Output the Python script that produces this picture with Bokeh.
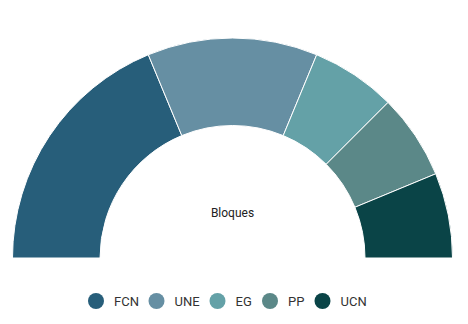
import math
from bokeh.plotting import figure
from bokeh.models import Range1d, ColumnDataSource
from bokeh.core.properties import value
from bokeh.embed import file_html
from bokeh.resources import INLINE

categories = ["FCN", "UNE", "EG", "PP", "UCN"]
seats = [3, 2, 1, 1, 1]
colors = ["#275E7A", "#668FA3", "#64A1A7", "#5B8888", "#0A4447"]
center_label = "Bloques"

W, H = 468, 324
p = figure(width=W, height=H, output_backend="svg", toolbar_location=None,
           x_range=Range1d(0, W), y_range=Range1d(0, H), min_border=0)
p.axis.visible = False
p.grid.visible = False
p.outline_line_color = None
p.background_fill_color = "white"
p.border_fill_color = "white"

total = sum(seats)
starts, ends = [], []
acc = 0
for v in seats:
    starts.append(math.pi - acc / total * math.pi)
    acc += v
    ends.append(math.pi - acc / total * math.pi)

cx, cy = 232, H - 257.5
src = ColumnDataSource(dict(cat=categories, v=seats, start=starts, end=ends, color=colors))
p.annular_wedge(x=cx, y=cy, inner_radius=132.5, outer_radius=220,
                start_angle="start", end_angle="end", direction="clock",
                fill_color="color", line_color="white", line_width=1, source=src)

p.text(x=[cx], y=[H - 212], text=[center_label], text_align="center", text_baseline="middle",
       text_font=value("Roboto"), text_font_size="12px", text_color="#222222")

# legend
legend_x = [95.5, 156, 217, 269.5, 322]
ly = H - 300.5
p.scatter(x=legend_x, y=[ly] * 5, size=16, marker="circle", fill_color=colors, line_color=None)
p.text(x=[x + 18 for x in legend_x], y=[ly] * 5, text=categories, text_align="left",
       text_baseline="middle", text_font=value("Roboto"), text_font_size="13px",
       text_color="#333333")

open("out.html", "w").write(file_html(p, INLINE))
